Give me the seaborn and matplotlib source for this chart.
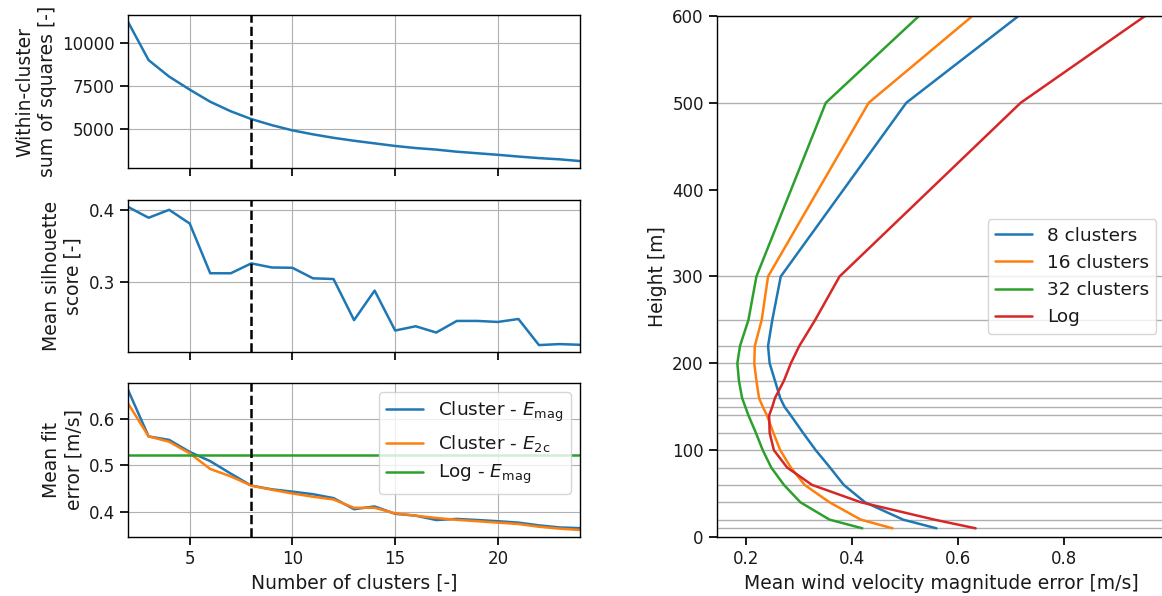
import numpy as np
import pandas as pd
import matplotlib
matplotlib.use("Agg")
import matplotlib.pyplot as plt
from matplotlib.ticker import MultipleLocator
import seaborn as sns

# ---------------- data ----------------
n_clusters = list(range(2, 25))
wcss = [11200, 9000, 8050, 7300, 6600, 6050, 5600, 5250, 4950, 4720, 4520, 4350,
        4200, 4050, 3930, 3840, 3720, 3630, 3540, 3440, 3350, 3280, 3180]
silhouette = [0.404, 0.389, 0.400, 0.381, 0.312, 0.312, 0.3257, 0.320, 0.3196, 0.305,
              0.304, 0.247, 0.288, 0.2326, 0.2385, 0.2298, 0.2459, 0.2459, 0.2445,
              0.2486, 0.2124, 0.2138, 0.2128]
err_mag = [0.663, 0.5625, 0.555, 0.529, 0.509, 0.482, 0.456, 0.448, 0.443, 0.4375,
           0.429, 0.405, 0.411, 0.395, 0.391, 0.3816, 0.384, 0.3816, 0.379, 0.376,
           0.370, 0.3655, 0.364]
err_2c = [0.634, 0.5625, 0.551, 0.526, 0.492, 0.476, 0.456, 0.447, 0.439, 0.432,
          0.426, 0.408, 0.408, 0.396, 0.391, 0.386, 0.382, 0.379, 0.376, 0.373,
          0.367, 0.363, 0.360]
log_err_mag = 0.5228
chosen_k = 8

heights = [10, 20, 40, 60, 80, 100, 120, 140, 150, 160, 180, 200, 220, 250, 300, 500, 600]
err_8 = [0.560, 0.497, 0.425, 0.385, 0.359, 0.332, 0.308, 0.285, 0.273, 0.265, 0.255,
         0.245, 0.242, 0.250, 0.266, 0.503, 0.715]
err_16 = [0.477, 0.417, 0.358, 0.311, 0.285, 0.265, 0.252, 0.240, 0.232, 0.225, 0.220,
          0.216, 0.217, 0.230, 0.242, 0.432, 0.628]
err_32 = [0.420, 0.358, 0.303, 0.272, 0.248, 0.232, 0.219, 0.205, 0.199, 0.193, 0.187,
          0.184, 0.189, 0.205, 0.220, 0.351, 0.527]
err_log = [0.634, 0.556, 0.417, 0.325, 0.278, 0.253, 0.245, 0.244, 0.250, 0.255, 0.272,
           0.285, 0.301, 0.331, 0.377, 0.719, 0.954]
profile_labels = ["8 clusters", "16 clusters", "32 clusters", "Log"]

# ---------------- style ----------------
sns.set_theme(context="notebook", style="ticks")
plt.rcParams.update({
    "font.family": ["DejaVu Sans"],
    "axes.edgecolor": "black",
    "axes.linewidth": 1.0,
    "text.color": "0.1",
    "axes.labelcolor": "0.1",
    "xtick.color": "black",
    "ytick.color": "black",
    "xtick.labelcolor": "0.1",
    "ytick.labelcolor": "0.1",
    "grid.color": "#b0b0b0",
    "grid.linewidth": 0.8,
    "axes.labelsize": 13.5,
    "xtick.labelsize": 12,
    "ytick.labelsize": 12,
    "legend.fontsize": 13.3,
    "mathtext.fontset": "dejavusans",
})

colors = ["#1f77b4", "#ff7f0e", "#2ca02c", "#d62728"]
lw = 1.8

fig = plt.figure(figsize=(11.62, 5.96), dpi=100)
L, W = 0.1102, 0.389
ax1 = fig.add_axes([L, 0.7181, W, 0.2567])
ax2 = fig.add_axes([L, 0.4094, W, 0.2550], sharex=ax1)
ax3 = fig.add_axes([L, 0.0990, W, 0.2584], sharex=ax1)
ax4 = fig.add_axes([0.617, 0.0990, 0.386, 0.8742])

df = pd.DataFrame({"k": n_clusters, "wcss": wcss, "sil": silhouette,
                   "emag": err_mag, "e2c": err_2c})

sns.lineplot(data=df, x="k", y="wcss", ax=ax1, color=colors[0], lw=lw)
sns.lineplot(data=df, x="k", y="sil", ax=ax2, color=colors[0], lw=lw)
sns.lineplot(data=df, x="k", y="emag", ax=ax3, color=colors[0], lw=lw,
             label=r"Cluster - $E_\mathrm{mag}$")
sns.lineplot(data=df, x="k", y="e2c", ax=ax3, color=colors[1], lw=lw,
             label=r"Cluster - $E_\mathrm{2c}$")
ax3.axhline(log_err_mag, color=colors[2], lw=lw, label=r"Log - $E_\mathrm{mag}$")

for ax in (ax1, ax2, ax3):
    ax.axvline(chosen_k, color="black", ls="--", lw=lw)
    ax.grid(True)
    ax.set_xlim(n_clusters[0], n_clusters[-1])
    ax.xaxis.set_major_locator(MultipleLocator(5))

ax1.yaxis.set_major_locator(MultipleLocator(2500))
ax2.yaxis.set_major_locator(MultipleLocator(0.1))
ax3.yaxis.set_major_locator(MultipleLocator(0.1))
ax1.tick_params(labelbottom=False)
ax2.tick_params(labelbottom=False)
ax1.set_xlabel("")
ax2.set_xlabel("")
ax1.set_ylabel("Within-cluster\nsum of squares [-]")
ax2.set_ylabel("Mean silhouette\nscore [-]")
ax3.set_ylabel("Mean fit\nerror [m/s]")
ax3.set_xlabel("Number of clusters [-]")
ax3.legend(loc="upper right")

# right panel
for h in heights:
    ax4.axhline(h, color="#b0b0b0", lw=1.0, zorder=0)
for vals, lab, c in zip([err_8, err_16, err_32, err_log], profile_labels, colors):
    sns.lineplot(x=vals, y=heights, ax=ax4, color=c, lw=lw, label=lab,
                 orient="y", sort=True)
ax4.set_ylim(0, 600)
ax4.yaxis.set_major_locator(MultipleLocator(100))
ax4.xaxis.set_major_locator(MultipleLocator(0.2))
ax4.spines["right"].set_visible(False)
ax4.set_ylabel("Height [m]")
ax4.set_xlabel("Mean wind velocity magnitude error [m/s]")
ax4.legend(loc="center right")

fig.savefig("out.png", dpi=100)
